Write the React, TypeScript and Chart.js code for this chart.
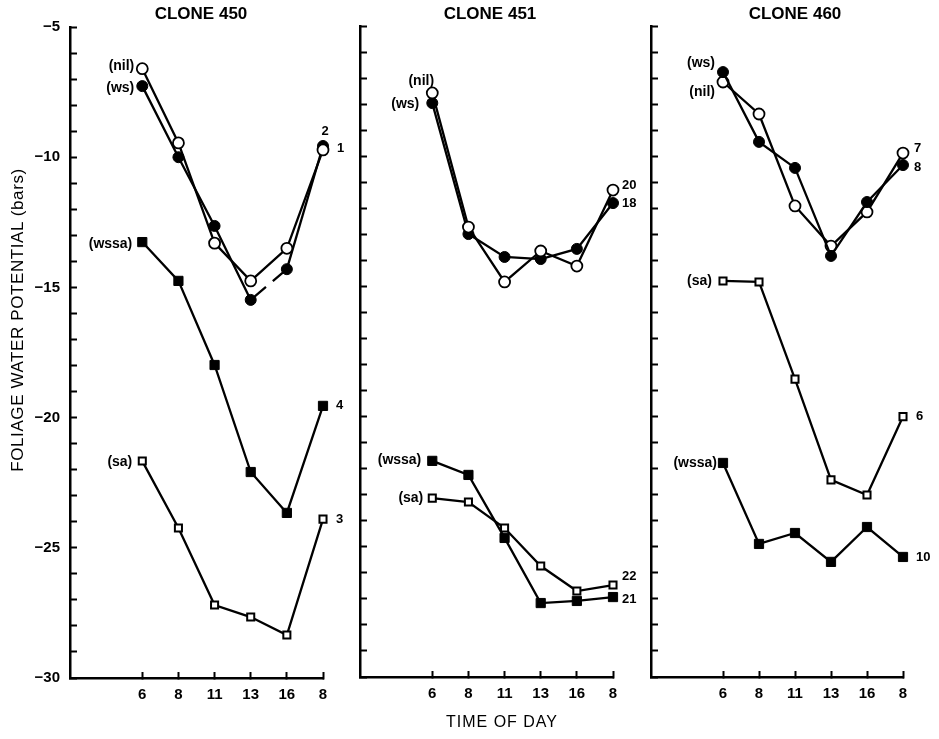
import React, { useEffect, useRef } from 'react';
import { Chart, registerables } from 'chart.js';

Chart.register(...registerables);

// ---- data ----
const TIMES = ['6', '8', '11', '13', '16', '8'];
const Y_MIN = -30;
const Y_MAX = -5;
const Y_LABELED = [-5, -10, -15, -20, -25, -30];

// Clone 450
const C450_NIL = [-6.6, -9.45, -13.3, -14.75, -13.5, -9.72];
const C450_WS = [-7.27, -10.0, -12.64, -15.48, -14.3, -9.57];
const C450_WSSA = [-13.26, -14.75, -17.98, -22.09, -23.66, -19.55];
const C450_SA = [-21.67, -24.24, -27.2, -27.66, -28.35, -23.9];
// Clone 451
const C451_NIL = [-7.57, -12.72, -14.83, -13.64, -14.22, -11.3];
const C451_WS = [-7.96, -12.99, -13.87, -13.95, -13.56, -11.8];
const C451_WSSA = [-21.7, -22.24, -24.66, -27.16, -27.08, -26.93];
const C451_SA = [-23.13, -23.28, -24.28, -25.74, -26.7, -26.47];
// Clone 460
const C460_WS = [-6.77, -9.45, -10.45, -13.83, -11.76, -10.34];
const C460_NIL = [-7.15, -8.38, -11.91, -13.45, -12.14, -9.88];
const C460_SA = [-14.79, -14.83, -18.56, -22.43, -23.01, -20.0];
const C460_WSSA = [-21.78, -24.89, -24.47, -25.58, -24.24, -25.39];

// ---- config ----
type Kind = 'nil' | 'ws' | 'wssa' | 'sa';
interface SeriesCfg {
  kind: Kind;
  values: number[];
  startText: string;
  sdx: number;
  sdy: number;
  salign: CanvasTextAlign;
  endText: string;
  edx: number;
  edy: number;
  ealign: CanvasTextAlign;
  dashAfter?: number;
}
interface PanelCfg {
  title: string;
  titleX: number;
  left: number;
  width: number;
  top: number;
  bottom: number;
  axisX: number;
  lastX: number;
  showYLabels: boolean;
  series: SeriesCfg[];
}

const PANELS: PanelCfg[] = [
  {
    title: 'CLONE 450', titleX: 201, left: 0, width: 345, top: 27, bottom: 678, axisX: 70, lastX: 323, showYLabels: true,
    series: [
      { kind: 'nil', values: C450_NIL, startText: '(nil)', sdx: -8, sdy: -3, salign: 'right', endText: '1', edx: 14, edy: -1, ealign: 'left' },
      { kind: 'ws', values: C450_WS, startText: '(ws)', sdx: -8, sdy: 2, salign: 'right', endText: '2', edx: 2, edy: -15, ealign: 'center', dashAfter: 3 },
      { kind: 'wssa', values: C450_WSSA, startText: '(wssa)', sdx: -10, sdy: 2, salign: 'right', endText: '4', edx: 13, edy: 0, ealign: 'left' },
      { kind: 'sa', values: C450_SA, startText: '(sa)', sdx: -10, sdy: 1, salign: 'right', endText: '3', edx: 13, edy: 0, ealign: 'left' },
    ],
  },
  {
    title: 'CLONE 451', titleX: 490, left: 335, width: 310, top: 25, bottom: 677, axisX: 360, lastX: 613, showYLabels: false,
    series: [
      { kind: 'nil', values: C451_NIL, startText: '(nil)', sdx: -11, sdy: -12, salign: 'center', endText: '20', edx: 9, edy: -5, ealign: 'left' },
      { kind: 'ws', values: C451_WS, startText: '(ws)', sdx: -13, sdy: 1, salign: 'right', endText: '18', edx: 9, edy: 0, ealign: 'left' },
      { kind: 'wssa', values: C451_WSSA, startText: '(wssa)', sdx: -11, sdy: -1, salign: 'right', endText: '21', edx: 9, edy: 2, ealign: 'left' },
      { kind: 'sa', values: C451_SA, startText: '(sa)', sdx: -9, sdy: 0, salign: 'right', endText: '22', edx: 9, edy: -9, ealign: 'left' },
    ],
  },
  {
    title: 'CLONE 460', titleX: 795, left: 628, width: 311, top: 24, bottom: 677, axisX: 651, lastX: 903, showYLabels: false,
    series: [
      { kind: 'ws', values: C460_WS, startText: '(ws)', sdx: -8, sdy: -9, salign: 'right', endText: '8', edx: 11, edy: 2, ealign: 'left' },
      { kind: 'nil', values: C460_NIL, startText: '(nil)', sdx: -8, sdy: 10, salign: 'right', endText: '7', edx: 11, edy: -5, ealign: 'left' },
      { kind: 'sa', values: C460_SA, startText: '(sa)', sdx: -11, sdy: 0, salign: 'right', endText: '6', edx: 13, edy: 0, ealign: 'left' },
      { kind: 'wssa', values: C460_WSSA, startText: '(wssa)', sdx: -6, sdy: 0, salign: 'right', endText: '10', edx: 13, edy: 0, ealign: 'left' },
    ],
  },
];

const FONT = '"Liberation Sans", Arial, Helvetica, sans-serif';
const H = 739;

function markerStyle(kind: Kind) {
  switch (kind) {
    case 'nil':
      return { pointStyle: 'circle', pointRadius: 5.5, pointBackgroundColor: '#fff', pointBorderWidth: 1.8 };
    case 'ws':
      return { pointStyle: 'circle', pointRadius: 5.5, pointBackgroundColor: '#000', pointBorderWidth: 1 };
    case 'wssa':
      return { pointStyle: 'rect', pointRadius: 6.5, pointBackgroundColor: '#000', pointBorderWidth: 1 };
    default:
      return { pointStyle: 'rect', pointRadius: 5, pointBackgroundColor: '#fff', pointBorderWidth: 2 };
  }
}

const labelPlugin = {
  id: 'seriesLabels',
  afterDatasetsDraw(chart: any) {
    const cfg: PanelCfg = chart.options.plugins.seriesLabels.cfg;
    const ctx: CanvasRenderingContext2D = chart.ctx;
    ctx.save();
    ctx.fillStyle = '#000';
    ctx.textBaseline = 'middle';
    cfg.series.forEach((s, i) => {
      const meta = chart.getDatasetMeta(i);
      const first = meta.data[0];
      const last = meta.data[meta.data.length - 1];
      ctx.font = `bold 14px ${FONT}`;
      ctx.textAlign = s.salign;
      ctx.fillText(s.startText, first.x + s.sdx, first.y + s.sdy);
      ctx.font = `bold 13px ${FONT}`;
      ctx.textAlign = s.ealign;
      ctx.fillText(s.endText, last.x + s.edx, last.y + s.edy);
    });
    ctx.restore();
  },
};

function Panel({ cfg }: { cfg: PanelCfg }) {
  const ref = useRef<HTMLCanvasElement>(null);
  useEffect(() => {
    const canvas = ref.current!;
    const padRight = cfg.left + cfg.width - cfg.lastX;
    const chart = new Chart(canvas, {
      type: 'line',
      data: {
        datasets: cfg.series.map((s) => ({
          data: s.values.map((v, i) => ({ x: i, y: v })),
          borderColor: '#000',
          borderWidth: 2.3,
          pointBorderColor: '#000',
          fill: false,
          tension: 0,
          clip: false,
          ...markerStyle(s.kind),
          segment: {
            borderDash: (c: any) =>
              s.dashAfter !== undefined && c.p0DataIndex === s.dashAfter ? [20, 9] : undefined,
          },
        })),
      } as any,
      options: {
        responsive: false,
        animation: false,
        devicePixelRatio: 1,
        layout: { padding: { top: cfg.top, right: padRight, left: 0, bottom: 0 } },
        plugins: {
          legend: { display: false },
          tooltip: { enabled: false },
          title: { display: false },
          seriesLabels: { cfg },
        } as any,
        scales: {
          x: {
            type: 'linear',
            min: -2,
            max: TIMES.length - 1,
            afterBuildTicks: (s: any) => {
              s.ticks = TIMES.map((_, i) => ({ value: i }));
            },
            afterFit: (s: any) => {
              s.height = H - cfg.bottom;
            },
            ticks: {
              autoSkip: false,
              maxRotation: 0,
              color: '#000',
              padding: 14,
              font: { family: FONT, size: 15, weight: 'bold' },
              callback: (v: any) => TIMES[v as number] ?? '',
            },
            grid: { drawOnChartArea: false, drawTicks: true, tickLength: -6, tickWidth: 2, tickColor: '#000' },
            border: { display: true, color: '#000', width: 2.5 },
          },
          y: {
            type: 'linear',
            min: Y_MIN,
            max: Y_MAX,
            afterFit: (s: any) => {
              s.width = cfg.axisX - cfg.left;
            },
            ticks: {
              stepSize: 1,
              autoSkip: false,
              color: '#000',
              padding: 17,
              font: { family: FONT, size: 15, weight: 'bold' },
              callback: (v: any) =>
                cfg.showYLabels && Y_LABELED.includes(v as number) ? '\u2212' + Math.abs(v as number) : '',
            },
            grid: { drawOnChartArea: false, drawTicks: true, tickLength: -7, tickWidth: 2, tickColor: '#000' },
            border: { display: true, color: '#000', width: 2.5 },
          },
        } as any,
      },
      plugins: [labelPlugin],
    });
    return () => chart.destroy();
  }, [cfg]);
  return (
    <canvas
      ref={ref}
      width={cfg.width}
      height={H}
      style={{ position: 'absolute', left: cfg.left, top: 0, width: cfg.width, height: H }}
    />
  );
}

export default function App() {
  useEffect(() => {
    document.body.style.margin = '0';
  }, []);
  return (
    <div
      style={{
        position: 'relative',
        width: 939,
        height: 739,
        background: '#fff',
        overflow: 'hidden',
        fontFamily: FONT,
        color: '#000',
      }}
    >
      {PANELS.map((p) => (
        <Panel key={p.title} cfg={p} />
      ))}
      {PANELS.map((p) => (
        <div
          key={'t' + p.title}
          style={{
            position: 'absolute',
            left: p.titleX - 100,
            width: 200,
            top: 4,
            lineHeight: '20px',
            textAlign: 'center',
            fontWeight: 'bold',
            fontSize: 17,
          }}
        >
          {p.title}
        </div>
      ))}
      <div
        style={{
          position: 'absolute',
          left: 18 - 170,
          top: 320 - 10,
          width: 340,
          height: 20,
          lineHeight: '20px',
          textAlign: 'center',
          fontSize: 17,
          letterSpacing: '0.6px',
          transform: 'rotate(-90deg)',
        }}
      >
        FOLIAGE WATER POTENTIAL (bars)
      </div>
      <div
        style={{
          position: 'absolute',
          left: 502 - 100,
          top: 722 - 10,
          width: 200,
          lineHeight: '20px',
          textAlign: 'center',
          fontSize: 16,
          letterSpacing: '1px',
        }}
      >
        TIME OF DAY
      </div>
    </div>
  );
}
